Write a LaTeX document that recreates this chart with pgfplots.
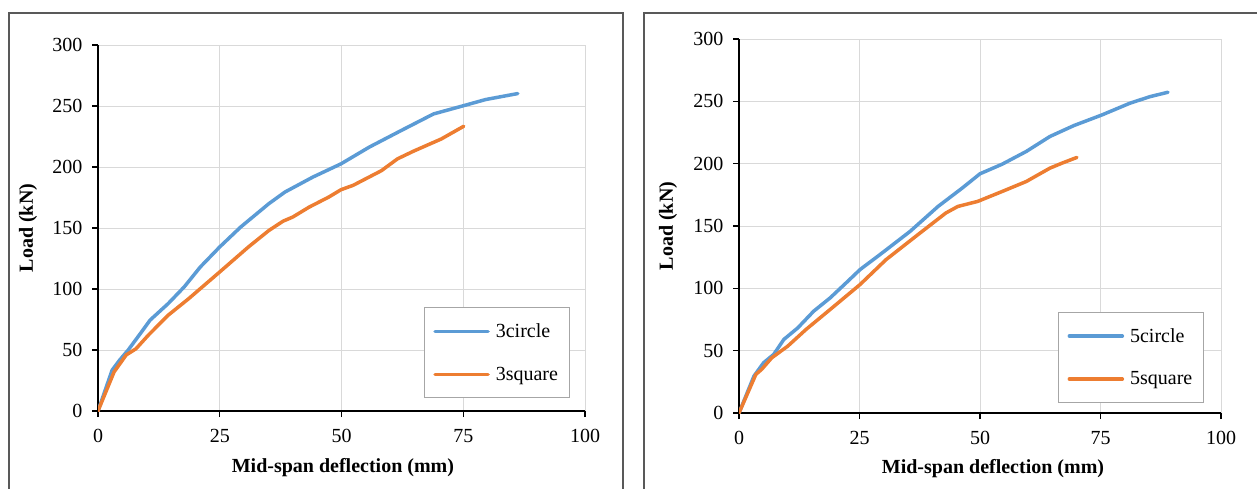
\documentclass[border=0pt]{standalone}
\usepackage{pgfplots}
\pgfplotsset{compat=1.18}
\usepackage{fontspec}
\setmainfont{Liberation Serif}
\definecolor{xblue}{HTML}{5B9BD5}
\definecolor{xorange}{HTML}{ED7D31}
\definecolor{gridc}{HTML}{D9D9D9}
\definecolor{boxc}{HTML}{595959}
\definecolor{legc}{HTML}{A6A6A6}
\pgfplotsset{
  myaxis/.style={
    scale only axis,
    anchor=south west,
    xmin=0,xmax=100,ymin=0,ymax=300,
    xtick={0,25,50,75,100},
    ytick={0,50,100,150,200,250,300},
    axis lines*=left,
    axis line style={black,line width=1.2pt,-},
    grid=major,
    major grid style={gridc,line width=1pt},
    tick align=outside,
    major tick length=6pt,
    tick style={black,line width=1.2pt},
    /pgf/number format/assume math mode=true,
    tick label style={font=\rmfamily\fontsize{20}{24}\selectfont},
    xticklabel style={yshift=-9pt},
    yticklabel style={xshift=-6pt},
    xlabel={Mid-span deflection (mm)},
    ylabel={Load (kN)},
    legend cell align=left,
    legend style={draw=legc,line width=1pt,font=\rmfamily\fontsize{20}{24}\selectfont,
      anchor=north west,row sep=24pt,inner xsep=9pt,inner ysep=14pt},
    legend image code/.code={\draw[#1] (0pt,0pt) -- (53pt,0pt); \path (57pt,0pt);},
    every axis plot/.append style={line width=3.5pt,line join=round,line cap=round},
  }
}
\begin{document}
\begin{tikzpicture}[x=1pt,y=1pt]
\useasboundingbox (0,0) rectangle (1257,488);
\draw[boxc,line width=1.2pt] (9,-10) rectangle (623,475);
\draw[boxc,line width=1.2pt] (644,-10) rectangle (1275,475);
\begin{axis}[myaxis,at={(98pt,77pt)},width=487pt,height=366pt,
  every axis y label/.style={at={(axis description cs:-0.1437,0.5)},rotate=90,anchor=center,font=\rmfamily\fontsize{20}{24}\selectfont\bfseries},
  every axis x label/.style={at={(axis description cs:0.503,0)},yshift=-57pt,anchor=center,font=\rmfamily\fontsize{20}{24}\selectfont\bfseries},
  legend style={at={(axis description cs:0.669,0.284)}}]
\addplot[xblue] coordinates {
(0,0) (2.9,33.5) (4.5,42) (6.2,50) (8.7,63.5) (10.7,74.5) (14.4,88) (17.7,101.7)
(21,118) (25,134.5) (29.3,150.8) (35.1,170) (38.4,179.5) (44.1,191.7) (49.9,202.6)
(55.7,216.3) (62.3,230) (68.9,243.5) (75.1,250.3) (79.6,255.3) (86.2,260.2)};
\addlegendentry{3circle}
\addplot[xorange] coordinates {
(0,0) (3.3,32) (5.8,46) (7.8,51) (10.3,62) (14.4,78.5) (18.6,92) (25,114)
(30.9,134.5) (35.1,148) (38,155.6) (40,159) (43.3,167) (47.4,175.4) (49.9,181.4)
(52.4,185) (58.2,197) (61.5,206.7) (64.8,213) (70.5,223) (75.1,233.4)};
\addlegendentry{3square}
\end{axis}
\begin{axis}[myaxis,at={(739pt,75pt)},width=482pt,height=374pt,
  every axis y label/.style={at={(axis description cs:-0.147,0.5)},rotate=90,anchor=center,font=\rmfamily\fontsize{20}{24}\selectfont\bfseries},
  every axis x label/.style={at={(axis description cs:0.527,0)},yshift=-56pt,anchor=center,font=\rmfamily\fontsize{20}{24}\selectfont\bfseries},
  legend style={at={(axis description cs:0.662,0.270)}}]
\addplot[xblue] coordinates {
(0,0) (3.1,29.6) (5.1,40.3) (7.2,47) (9.3,59) (12.2,68.3) (15.5,81.7) (18.9,92.3)
(22.2,104.3) (25.1,115) (29.7,128.4) (35.5,145.7) (41.3,165.7) (46.3,180.4) (50,191.9)
(54.6,199.6) (59.6,209.8) (64.5,221.8) (69.5,230.6) (75.3,239.1) (81.1,248.5)
(85.3,253.8) (89,257.3)};
\addlegendentry{5circle}
\addplot[xorange] coordinates {
(0,0) (3.5,31) (4.7,35) (6.8,44.3) (10.1,53.6) (13.9,67) (18.9,83) (25.1,103)
(30.5,123) (37.1,143) (42.9,160.4) (45.4,165.7) (49.5,169.7) (54.6,177.7)
(59.6,185.7) (64.5,196.4) (67,200.4) (70.1,205)};
\addlegendentry{5square}
\end{axis}
\end{tikzpicture}
\end{document}
